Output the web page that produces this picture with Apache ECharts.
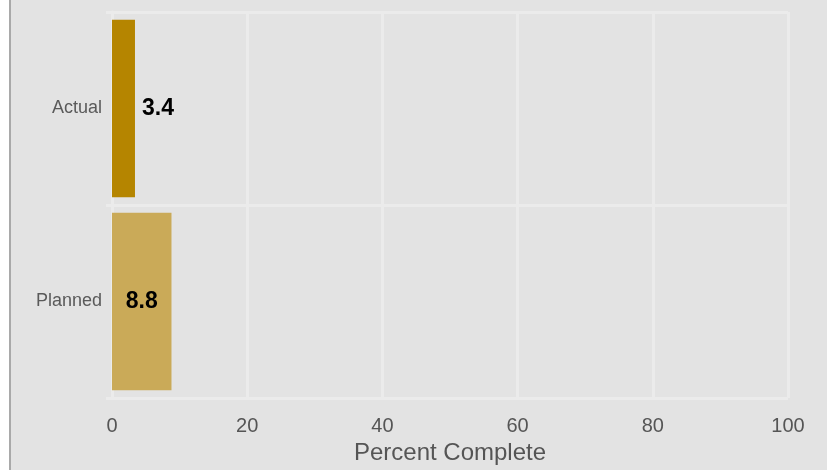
<!DOCTYPE html>
<html>
<head>
<meta charset="utf-8">
<script src="https://cdn.jsdelivr.net/npm/echarts@6/dist/echarts.min.js"></script>
<style>
html,body{margin:0;padding:0;background:#fff;overflow:hidden;}
#chart{width:827px;height:470px;}
</style>
</head>
<body>
<div id="chart"></div>
<script>
const categories = ['Planned', 'Actual'];
const values = [8.8, 3.4];
const barColors = ['#caaa58', '#b58500'];
const labelPositions = ['inside', 'right'];
const xTicks = [0, 20, 40, 60, 80, 100];

const chart = echarts.init(document.getElementById('chart'));
const gridColor = '#ebebeb';
chart.setOption({
  backgroundColor: '#e3e3e3',
  animation: false,
  graphic: [
    {type: 'rect', shape: {x: 0, y: 0, width: 9, height: 470}, style: {fill: '#ffffff'}},
    {type: 'rect', shape: {x: 9, y: 0, width: 2, height: 470}, style: {fill: '#a9a9a9'}}
  ],
  grid: {left: 112, right: 39, top: 12, bottom: 67, containLabel: false},
  xAxis: {
    type: 'value',
    min: xTicks[0],
    max: xTicks[xTicks.length - 1],
    interval: 20,
    name: 'Percent Complete',
    nameLocation: 'middle',
    nameGap: 43,
    nameTextStyle: {fontFamily: 'Liberation Sans', fontSize: 24, color: '#555', verticalAlign: 'top'},
    axisLine: {show: false},
    axisTick: {show: false},
    axisLabel: {fontFamily: 'Liberation Sans', fontSize: 20, color: '#555', margin: 18},
    splitLine: {show: true, lineStyle: {color: gridColor, width: 3}}
  },
  yAxis: {
    type: 'category',
    data: categories,
    axisLine: {show: true, lineStyle: {color: gridColor, width: 3}},
    axisTick: {show: true, length: 6, lineStyle: {color: gridColor, width: 3}},
    axisLabel: {fontFamily: 'Liberation Sans', fontSize: 18, color: '#5a5a5a', margin: 10},
    splitLine: {show: true, lineStyle: {color: gridColor, width: 3}}
  },
  series: [{
    type: 'bar',
    barWidth: '92%',
    data: values.map((v, i) => ({
      value: v,
      itemStyle: {color: barColors[i]},
      label: {show: true, position: labelPositions[i], distance: 7}
    })),
    label: {fontFamily: 'Liberation Sans', fontSize: 23, fontWeight: 'bold', color: '#000'}
  }]
});
</script>
</body>
</html>
